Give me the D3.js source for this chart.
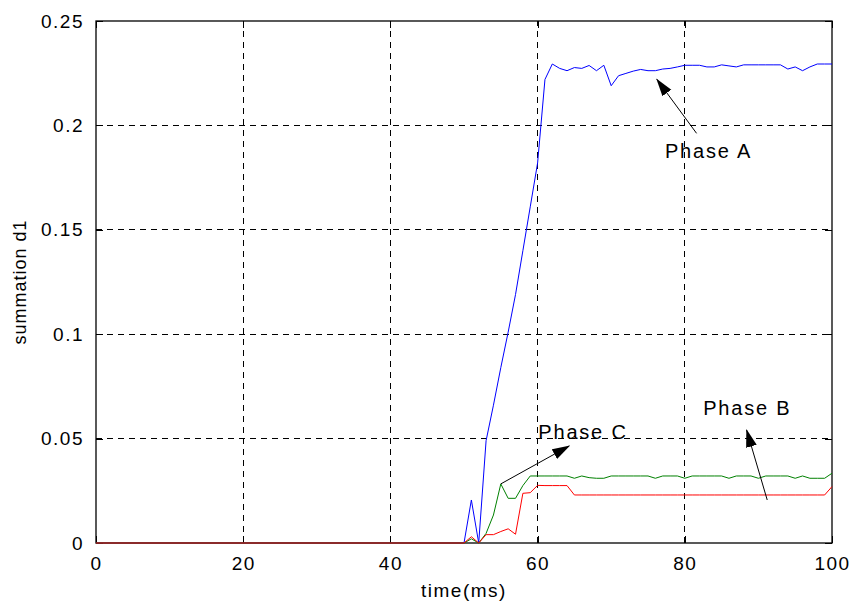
<!DOCTYPE html>
<html lang="en">
<head>
<meta charset="utf-8">
<title>summation d1</title>
<script src="https://cdnjs.cloudflare.com/ajax/libs/d3/7.8.5/d3.min.js"></script>
<style>
  body { margin: 0; background: #fff; }
  svg text { font-family: "Liberation Sans", Arial, sans-serif; fill: #000; }
</style>
</head>
<body>
<div id="chart"></div>
<script>
// sample times (ms) after the fault starts; before 50 ms every phase sits at 0
const timeMs = d3.range(50, 101);
const phaseA = [0, 0.0206, 0, 0.049, 0.066, 0.084, 0.101, 0.119, 0.140, 0.161,
  0.182, 0.222, 0.2294, 0.2273, 0.2262, 0.2277, 0.2273, 0.2287, 0.2262, 0.2288,
  0.2190, 0.2238, 0.2249, 0.2260, 0.2268, 0.2262, 0.2262, 0.2270, 0.2273, 0.2280,
  0.2288, 0.2288, 0.2288, 0.2280, 0.2280, 0.2290, 0.2285, 0.2280, 0.2290, 0.2290,
  0.2290, 0.2290, 0.2290, 0.2290, 0.2270, 0.2280, 0.2262, 0.2280, 0.2294, 0.2294,
  0.2294];
const phaseC = [0, 0.002, 0, 0.0046, 0.0134, 0.0283, 0.0214, 0.0214, 0.0275, 0.0321,
  0.0321, 0.0321, 0.0321, 0.0321, 0.0321, 0.0310, 0.0321, 0.0313, 0.0310, 0.0310,
  0.0321, 0.0321, 0.0321, 0.0321, 0.0321, 0.0321, 0.0310, 0.0321, 0.0321, 0.0321,
  0.0310, 0.0321, 0.0321, 0.0321, 0.0321, 0.0321, 0.0310, 0.0321, 0.0321, 0.0321,
  0.0310, 0.0321, 0.0321, 0.0321, 0.0321, 0.0310, 0.0321, 0.0310, 0.0310, 0.0310,
  0.0334];
const phaseB = [0, 0.003, 0, 0.004, 0.004, 0.0055, 0.0068, 0.0042, 0.0238, 0.0241,
  0.0276, 0.0275, 0.0275, 0.0275, 0.0275, 0.0230, 0.0230, 0.0230, 0.0230, 0.0230,
  0.0230, 0.0230, 0.0230, 0.0230, 0.0230, 0.0230, 0.0230, 0.0230, 0.0230, 0.0230,
  0.0230, 0.0230, 0.0230, 0.0230, 0.0230, 0.0230, 0.0230, 0.0230, 0.0230, 0.0230,
  0.0230, 0.0230, 0.0230, 0.0230, 0.0230, 0.0230, 0.0230, 0.0230, 0.0230, 0.0230,
  0.0270];
const xTicks = [0, 20, 40, 60, 80, 100];
const yTicks = [0, 0.05, 0.1, 0.15, 0.2, 0.25];
const yTickLabels = ["0", "0.05", "0.1", "0.15", "0.2", "0.25"];

// annotation text + arrow (tail -> tip), in data units
const notes = [
  { label: "Phase A", text: [77.3, 0.1846], tail: [81.6, 0.1962], tip: [76.2, 0.2221] },
  { label: "Phase C", text: [60.1, 0.0497], tail: [55.0, 0.0283], tip: [64.3, 0.0465] },
  { label: "Phase B", text: [82.5, 0.0613], tail: [91.2, 0.0206], tip: [88.4, 0.0541] }
];

const w = 852, h = 603;
const margin = { top: 21, right: 20, bottom: 60, left: 96 };

const x = d3.scaleLinear().domain([0, 100]).range([margin.left, w - margin.right]);
const y = d3.scaleLinear().domain([0, 0.25]).range([h - margin.bottom, margin.top]);

const svg = d3.select("#chart").append("svg")
  .attr("width", w)
  .attr("height", h);

svg.append("defs").append("marker")
  .attr("id", "head")
  .attr("markerUnits", "userSpaceOnUse")
  .attr("viewBox", "0 0 18 12")
  .attr("markerWidth", 18)
  .attr("markerHeight", 12)
  .attr("refX", 17)
  .attr("refY", 6)
  .attr("orient", "auto")
  .append("path")
  .attr("d", "M0,0.5 L18,6 L0,11.5 Z")
  .attr("fill", "#000");

// grid (dashed)
const grid = svg.append("g");
grid.selectAll("line.gx")
  .data(xTicks.slice(1, -1))
  .join("line")
  .attr("x1", d => x(d)).attr("x2", d => x(d))
  .attr("y1", y(0)).attr("y2", y(0.25));
grid.selectAll("line.gy")
  .data(yTicks.slice(1, -1))
  .join("line")
  .attr("class", "gy")
  .attr("x1", x(0)).attr("x2", x(100))
  .attr("y1", d => y(d)).attr("y2", d => y(d));
grid.selectAll("line")
  .attr("stroke", "#000")
  .attr("stroke-width", 1)
  .attr("stroke-dasharray", "6,5")
  .attr("shape-rendering", "crispEdges");

// axes, ticks inside the box on all four sides
const tickStyle = g => {
  g.select(".domain").remove();
  g.selectAll("text")
    .style("font-size", "19px")
    .style("letter-spacing", "1.5px");
  g.selectAll("line").attr("shape-rendering", "crispEdges");
};
svg.append("g")
  .attr("transform", "translate(0," + y(0) + ")")
  .call(d3.axisBottom(x).tickValues(xTicks).tickFormat(d3.format("d")).tickSizeInner(-7).tickPadding(14))
  .call(tickStyle);
svg.append("g")
  .attr("transform", "translate(0," + y(0.25) + ")")
  .call(d3.axisTop(x).tickValues(xTicks).tickFormat("").tickSizeInner(-7))
  .call(tickStyle);
svg.append("g")
  .attr("transform", "translate(" + x(0) + ",0)")
  .call(d3.axisLeft(y).tickValues(yTicks).tickFormat((d, i) => yTickLabels[i]).tickSizeInner(-7).tickPadding(12))
  .call(tickStyle);
svg.append("g")
  .attr("transform", "translate(" + x(100) + ",0)")
  .call(d3.axisRight(y).tickValues(yTicks).tickFormat("").tickSizeInner(-7))
  .call(tickStyle);

svg.append("rect")
  .attr("x", x(0)).attr("y", y(0.25))
  .attr("width", x(100) - x(0)).attr("height", y(0) - y(0.25))
  .attr("fill", "none").attr("stroke", "#000").attr("stroke-width", 1.3);

// series
const line = d3.line().x(d => x(d[0])).y(d => y(d[1]));
const series = [
  { values: phaseA, color: "#0000ff" },
  { values: phaseC, color: "#008000" },
  { values: phaseB, color: "#ff0000" }
];
series.forEach(s => {
  const pts = [[0, 0]].concat(timeMs.map((t, i) => [t, s.values[i]]));
  svg.append("path")
    .datum(pts)
    .attr("d", line)
    .attr("fill", "none")
    .attr("stroke", s.color)
    .attr("stroke-width", 1);
});

// annotations
notes.forEach(n => {
  svg.append("line")
    .attr("x1", x(n.tail[0])).attr("y1", y(n.tail[1]))
    .attr("x2", x(n.tip[0])).attr("y2", y(n.tip[1]))
    .attr("stroke", "#000").attr("stroke-width", 1)
    .attr("marker-end", "url(#head)");
  svg.append("text")
    .attr("x", x(n.text[0])).attr("y", y(n.text[1]))
    .style("font-size", "20px")
    .style("letter-spacing", "1.8px")
    .text(n.label);
});

// axis titles
svg.append("text")
  .attr("x", (x(0) + x(100)) / 2)
  .attr("y", 597)
  .attr("text-anchor", "middle")
  .style("font-size", "19px")
  .style("letter-spacing", "1.5px")
  .text("time(ms)");
svg.append("text")
  .attr("transform", "translate(26," + (y(0) + y(0.25)) / 2 + ") rotate(-90)")
  .attr("text-anchor", "middle")
  .style("font-size", "18px")
  .style("letter-spacing", "1px")
  .text("summation d1");
</script>
</body>
</html>
